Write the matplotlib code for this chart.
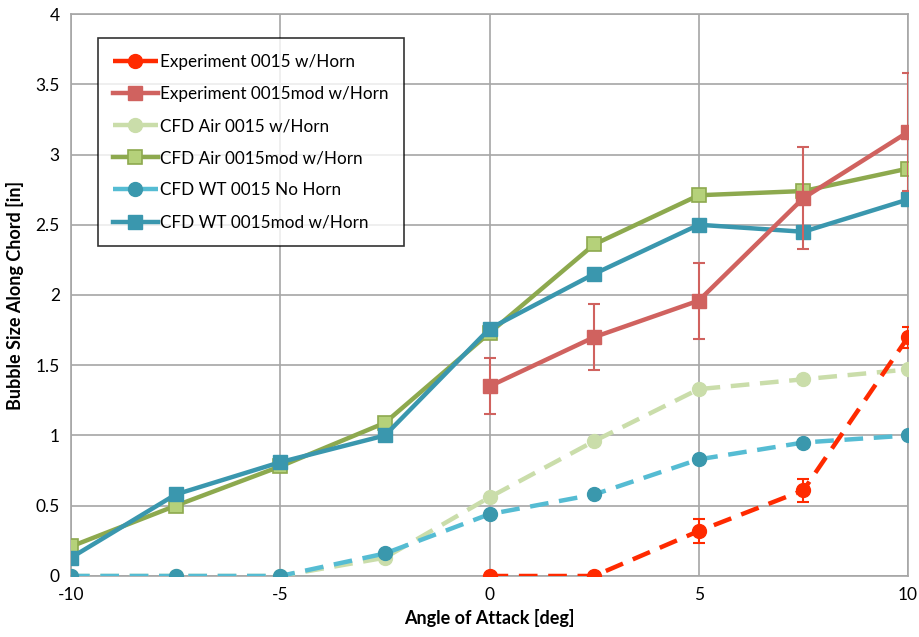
import matplotlib.pyplot as plt
from matplotlib.lines import Line2D

plt.rcParams['font.family'] = ['Lato', 'DejaVu Sans']

angle = [-10, -7.5, -5, -2.5, 0, 2.5, 5, 7.5, 10]

exp_x = [0, 2.5, 5, 7.5, 10]
exp_0015 = [0, 0, 0.32, 0.61, 1.70]
exp_0015_err = [0, 0, 0.085, 0.08, 0.075]
exp_mod = [1.35, 1.70, 1.96, 2.69, 3.16]
exp_mod_err = [0.20, 0.235, 0.27, 0.36, 0.42]

air_0015 = [0, 0, 0, 0.13, 0.56, 0.96, 1.33, 1.40, 1.47]
air_mod = [0.21, 0.50, 0.78, 1.09, 1.73, 2.36, 2.71, 2.74, 2.90]
wt_0015 = [0, 0, 0, 0.16, 0.44, 0.58, 0.83, 0.95, 1.00]
wt_mod = [0.13, 0.58, 0.81, 1.00, 1.76, 2.15, 2.50, 2.45, 2.68]

xticks = [-10, -5, 0, 5, 10]
yticks = [0, 0.5, 1, 1.5, 2, 2.5, 3, 3.5, 4]
ytick_labels = ['0', '0.5', '1', '1.5', '2', '2.5', '3', '3.5', '4']

fig = plt.figure(figsize=(9.2, 6.37), dpi=100)
ax = fig.add_axes([0.0772, 0.0958, 0.9098, 0.8822])

lw = 3.2
dash = (0, (4.2, 2.4))
red_kw = dict(color='#FF2A00', linestyle=dash, linewidth=lw, marker='o', markersize=10)
pink_kw = dict(color='#D0625F', linestyle='-', linewidth=lw, marker='s', markersize=10)
ax.errorbar(exp_x, exp_0015, yerr=exp_0015_err, capsize=4, elinewidth=1.5,
            capthick=1.5, zorder=5, **red_kw)
ax.errorbar(exp_x, exp_mod, yerr=exp_mod_err, capsize=4, elinewidth=1.5,
            capthick=1.5, zorder=4, **pink_kw)
h3, = ax.plot(angle, air_0015, color='#CADDAA', linestyle=dash, linewidth=lw,
              marker='o', markersize=10, label='CFD Air 0015 w/Horn', zorder=3)
h4, = ax.plot(angle, air_mod, color='#8DA94E', linestyle='-', linewidth=lw,
              marker='s', markersize=10, markerfacecolor='#B5D17A', markeredgecolor='#8DA94E',
              markeredgewidth=1.2, label='CFD Air 0015mod w/Horn', zorder=3)
h5, = ax.plot(angle, wt_0015, color='#55BCD3', linestyle=dash, linewidth=lw,
              marker='o', markersize=10, markerfacecolor='#3A98AD', markeredgecolor='#3A98AD',
              label='CFD WT 0015 No Horn', zorder=3)
h6, = ax.plot(angle, wt_mod, color='#3A97AE', linestyle='-', linewidth=lw,
              marker='s', markersize=10, label='CFD WT 0015mod w/Horn', zorder=3)

ax.set_xlim(-10, 10)
ax.set_ylim(0, 4)
ax.set_xticks(xticks)
ax.set_xticklabels([str(t) for t in xticks])
ax.set_yticks(yticks)
ax.set_yticklabels(ytick_labels)
ax.tick_params(axis='both', length=0, labelsize=12.5, pad=8)
ax.grid(True, color='#A6A6A6', linewidth=1.2)
ax.set_axisbelow(True)
for s in ax.spines.values():
    s.set_color('#A6A6A6')
    s.set_linewidth(1.2)

ax.set_xlabel('Angle of Attack [deg]', fontsize=13, fontweight='bold', labelpad=4)
ax.set_ylabel('Bubble Size Along Chord [in]', fontsize=13, fontweight='bold', labelpad=8)

h1 = Line2D([], [], label='Experiment 0015 w/Horn', **red_kw)
h2 = Line2D([], [], label='Experiment 0015mod w/Horn', **pink_kw)
handles = [h1, h2, h3, h4, h5, h6]
leg = ax.legend(handles=handles, loc='upper left', bbox_to_anchor=(0.032, 0.957),
                fontsize=12.3, frameon=True, fancybox=False, edgecolor='black',
                handlelength=2.6, labelspacing=0.95, borderpad=0.9, handletextpad=0.15,
                borderaxespad=0)
leg.get_frame().set_linewidth(1.2)

fig.savefig('out.png', dpi=100)
